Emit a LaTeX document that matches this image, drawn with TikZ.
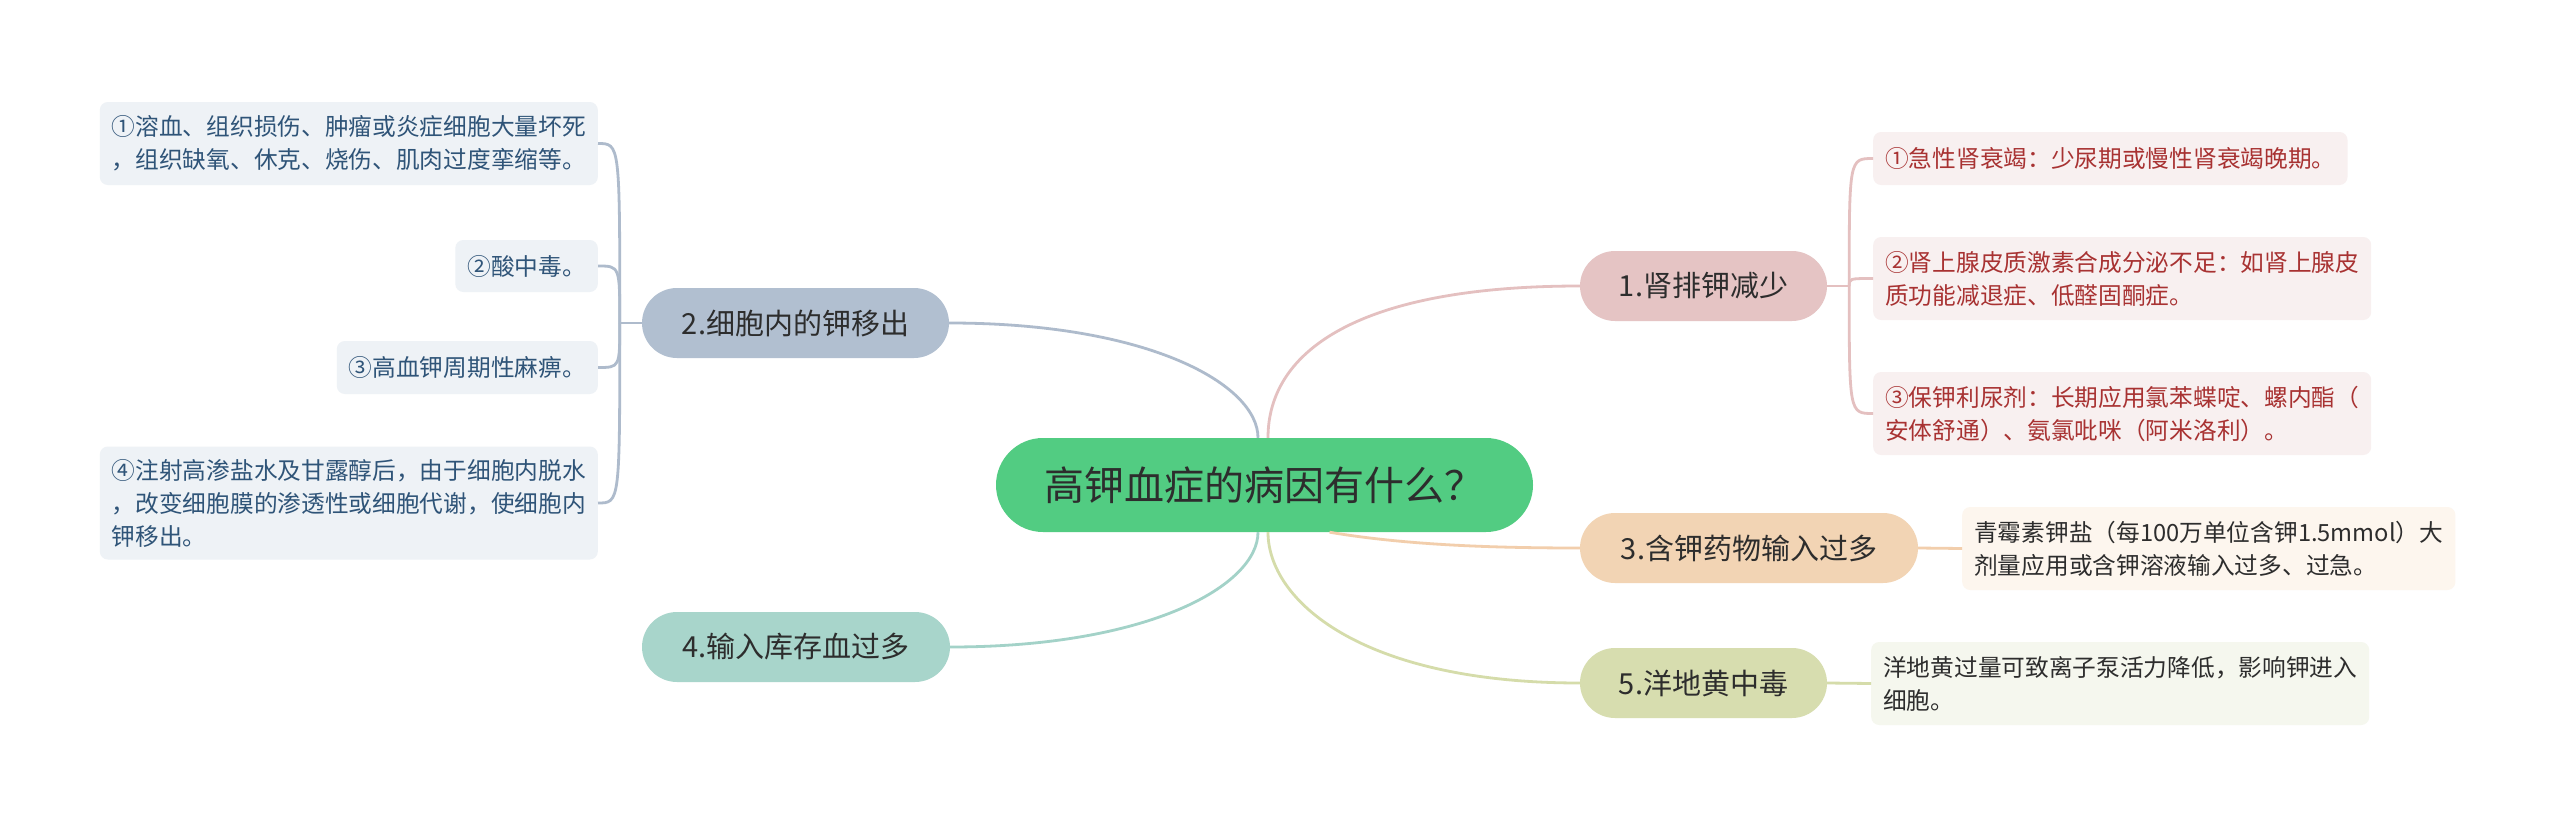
\documentclass[tikz,border=0pt]{standalone}
\usepackage{fontspec}
\setmainfont{Noto Sans CJK SC}
\usetikzlibrary{positioning,calc}

\definecolor{rootgreen}{HTML}{52CC82}
\definecolor{textdark}{HTML}{2D2D2D}
\definecolor{kidney}{HTML}{E5C4C4}
\definecolor{cellout}{HTML}{B1BFD0}
\definecolor{drugin}{HTML}{F2D4B4}
\definecolor{stored}{HTML}{A8D5CB}
\definecolor{digit}{HTML}{D7DDAF}
\definecolor{kidneyln}{HTML}{E4C0C0}
\definecolor{celloutln}{HTML}{AEBBCC}
\definecolor{druginln}{HTML}{F2CEAC}
\definecolor{storedln}{HTML}{A3D2C8}
\definecolor{digitln}{HTML}{D5DCAA}
\definecolor{leafblue}{HTML}{EEF2F6}
\definecolor{leafbluetxt}{HTML}{2F5478}
\definecolor{leafred}{HTML}{F8F0F0}
\definecolor{leafredtxt}{HTML}{A83232}
\definecolor{leafpeach}{HTML}{FDF6EE}
\definecolor{leafolive}{HTML}{F5F7EE}

\begin{document}
\begin{tikzpicture}[x=1pt, y=-1pt,
    root/.style={rectangle, fill=rootgreen, rounded corners=47pt, minimum width=537pt, minimum height=94pt, font=\fontsize{40}{46}\selectfont, text=textdark},
    branch/.style={rectangle, rounded corners=35pt, minimum height=70pt, font=\fontsize{29}{34}\selectfont, text=textdark},
    leaf/.style={rectangle, rounded corners=8pt, inner xsep=12pt, inner ysep=0pt, align=left, font=\fontsize{23.7}{33}\selectfont},
    link/.style={line width=2.8pt}
]

\fill[white] (0,0) rectangle (2560,827);
\useasboundingbox (0,0) rectangle (2560,827);

\node[root] (root) at (1264.5,485) {高钾血症的病因有什么？};

\node[branch, fill=kidney, minimum width=247pt] (n1) at (1703.5,286) {1.肾排钾减少};
\node[branch, fill=cellout, minimum width=307pt] (n2) at (795.5,323) {2.细胞内的钾移出};
\node[branch, fill=drugin, minimum width=338pt] (n3) at (1749,548) {3.含钾药物输入过多};
\node[branch, fill=stored, minimum width=308pt] (n4) at (796,647) {4.输入库存血过多};
\node[branch, fill=digit, minimum width=247pt] (n5) at (1703.5,683) {5.洋地黄中毒};

\node[leaf, fill=leafblue, text=leafbluetxt, minimum height=83pt, anchor=east] (l1) at (598,143.5) {①溶血、组织损伤、肿瘤或炎症细胞大量坏死\\，组织缺氧、休克、烧伤、肌肉过度挛缩等。};
\node[leaf, fill=leafblue, text=leafbluetxt, minimum height=52pt, anchor=east] (l2) at (598,266) {②酸中毒。};
\node[leaf, fill=leafblue, text=leafbluetxt, minimum height=53pt, anchor=east] (l3) at (598,367.5) {③高血钾周期性麻痹。};
\node[leaf, fill=leafblue, text=leafbluetxt, minimum height=113pt, anchor=east] (l4) at (598,503) {④注射高渗盐水及甘露醇后，由于细胞内脱水\\，改变细胞膜的渗透性或细胞代谢，使细胞内\\钾移出。};

\node[leaf, fill=leafred, text=leafredtxt, minimum height=53pt, anchor=west] (r1) at (1873,158.5) {①急性肾衰竭：少尿期或慢性肾衰竭晚期。};
\node[leaf, fill=leafred, text=leafredtxt, minimum height=83pt, anchor=west] (r2) at (1873,278.5) {②肾上腺皮质激素合成分泌不足：如肾上腺皮\\质功能减退症、低醛固酮症。};
\node[leaf, fill=leafred, text=leafredtxt, minimum height=83pt, anchor=west] (r3) at (1873,413.5) {③保钾利尿剂：长期应用氯苯蝶啶、螺内酯（\\安体舒通）、氨氯吡咪（阿米洛利）。};
\node[leaf, fill=leafpeach, text=textdark, minimum height=83pt, anchor=west] (r4) at (1962,548.5) {青霉素钾盐（每100万单位含钾1.5mmol）大\\剂量应用或含钾溶液输入过多、过急。};
\node[leaf, fill=leafolive, text=textdark, minimum height=83pt, anchor=west] (r5) at (1871,683.5) {洋地黄过量可致离子泵活力降低，影响钾进入\\细胞。};

\draw[link, draw=kidneyln] ([xshift=3.5pt]root.north) .. controls (1268,350) and (1360,286) .. (n1.west);
\draw[link, draw=celloutln] ([xshift=-6.5pt]root.north) .. controls (1258,385) and (1150,323) .. (n2.east);
\draw[link, draw=druginln] ([xshift=65pt]root.south) .. controls (1400,544) and (1480,548) .. (n3.west);
\draw[link, draw=storedln] ([xshift=-6.5pt]root.south) .. controls (1258,585) and (1150,647) .. (n4.east);
\draw[link, draw=digitln] ([xshift=3.5pt]root.south) .. controls (1268,600) and (1360,683) .. (n5.west);

\draw[link, draw=kidneyln] (n1.east) -- ++(22,0) coordinate (k1);
\foreach \r in {r1,r2,r3}
    \draw[link, draw=kidneyln] (k1) .. controls (k1 |- \r.west) .. (\r.west);
\draw[link, draw=celloutln] (n2.west) -- ++(-22,0) coordinate (k2);
\foreach \l in {l1,l2,l3,l4}
    \draw[link, draw=celloutln] (k2) .. controls (k2 |- \l.east) .. (\l.east);
\draw[link, draw=druginln] (n3.east) -- (r4.west);
\draw[link, draw=digitln] (n5.east) -- (r5.west);

\end{tikzpicture}
\end{document}
